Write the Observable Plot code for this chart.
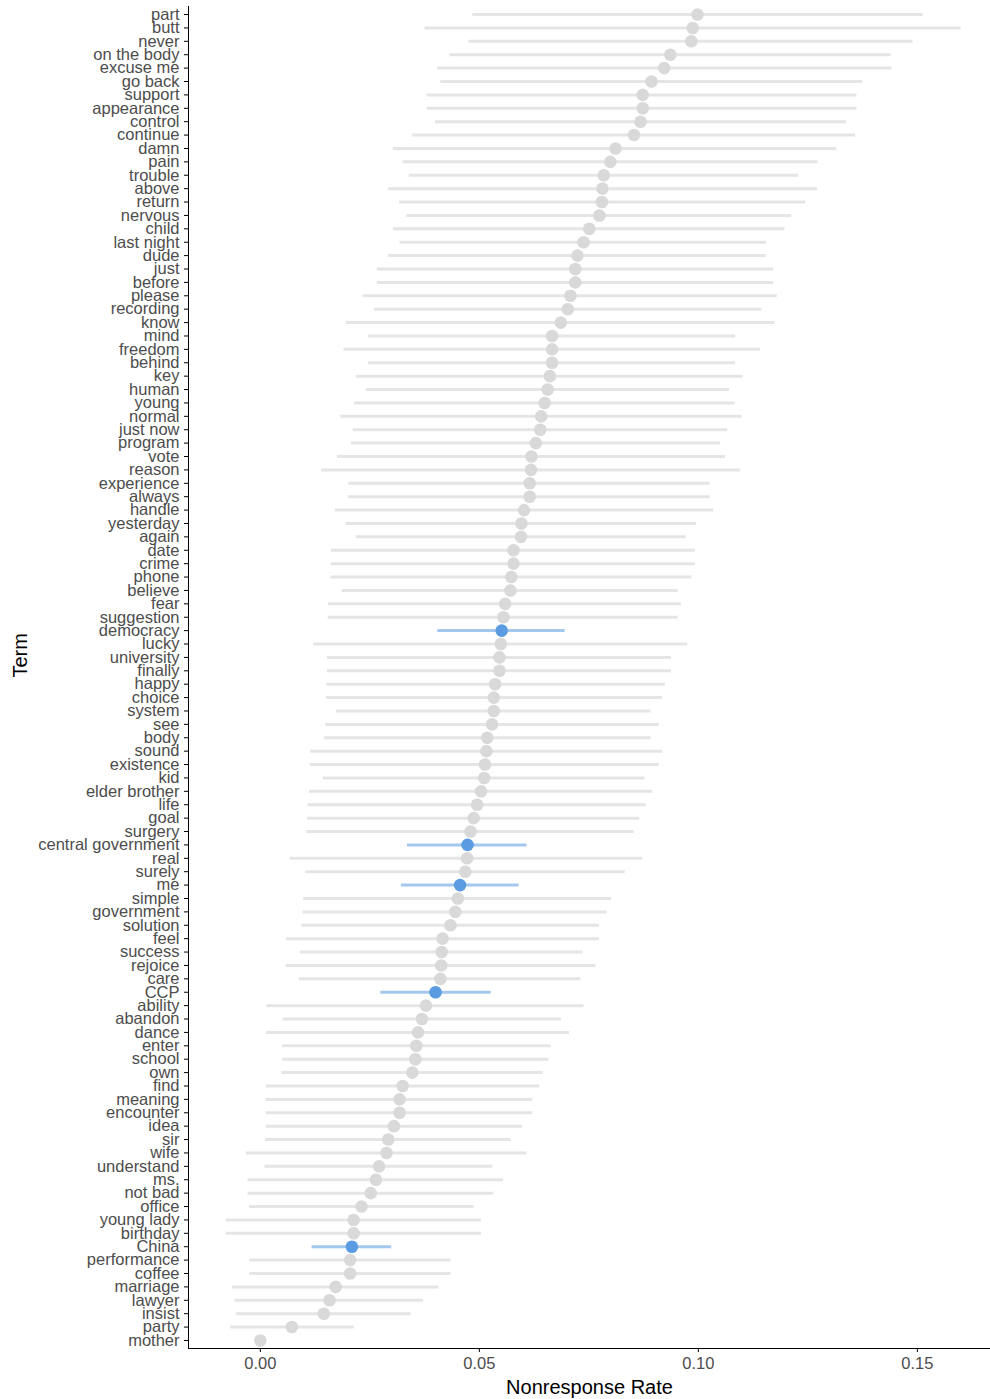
<!DOCTYPE html>
<html>
<head>
<meta charset="utf-8">
<script src="https://cdn.jsdelivr.net/npm/d3@7"></script>
<script src="https://cdn.jsdelivr.net/npm/@observablehq/plot@0.6"></script>
<style>
  html, body { margin: 0; padding: 0; background: #fff; }
  #chart svg { display: block; }
  #chart [aria-label$="tick label"] text, #chart g[aria-label$="tick label"] { fill: #4d4d4d; }
</style>
</head>
<body>
<div id="chart"></div>
<script>
const terms = ["part","butt","never","on the body","excuse me","go back","support","appearance","control","continue",
  "damn","pain","trouble","above","return","nervous","child","last night","dude","just",
  "before","please","recording","know","mind","freedom","behind","key","human","young",
  "normal","just now","program","vote","reason","experience","always","handle","yesterday","again",
  "date","crime","phone","believe","fear","suggestion","democracy","lucky","university","finally",
  "happy","choice","system","see","body","sound","existence","kid","elder brother","life",
  "goal","surgery","central government","real","surely","me","simple","government","solution","feel",
  "success","rejoice","care","CCP","ability","abandon","dance","enter","school","own",
  "find","meaning","encounter","idea","sir","wife","understand","ms.","not bad","office",
  "young lady","birthday","China","performance","coffee","marriage","lawyer","insist","party","mother"];

const rate = [0.0998,0.0987,0.0984,0.0936,0.0922,0.0893,0.0873,0.0873,0.0868,0.0853,
  0.0811,0.0799,0.0784,0.0781,0.0780,0.0774,0.0751,0.0738,0.0724,0.0719,
  0.0719,0.0708,0.0702,0.0686,0.0666,0.0666,0.0666,0.0661,0.0656,0.0649,
  0.0641,0.0639,0.0629,0.0619,0.0618,0.0615,0.0615,0.0602,0.0596,0.0595,
  0.0578,0.0578,0.0573,0.0571,0.0559,0.0555,0.0551,0.0549,0.0546,0.0546,
  0.0536,0.0533,0.0533,0.0529,0.0518,0.0516,0.0513,0.0511,0.0504,0.0495,
  0.0487,0.0480,0.0473,0.0472,0.0468,0.0456,0.0451,0.0445,0.0434,0.0416,
  0.0414,0.0413,0.0411,0.0400,0.0378,0.0369,0.0360,0.0356,0.0354,0.0347,
  0.0325,0.0318,0.0318,0.0305,0.0292,0.0288,0.0271,0.0264,0.0252,0.0231,
  0.0213,0.0213,0.0209,0.0205,0.0205,0.0172,0.0158,0.0145,0.0072,0.0000];

const lower = [0.0485,0.0376,0.0476,0.0433,0.0405,0.0412,0.0381,0.0381,0.0400,0.0348,
  0.0304,0.0326,0.0340,0.0293,0.0318,0.0335,0.0304,0.0319,0.0293,0.0267,
  0.0267,0.0235,0.0261,0.0196,0.0247,0.0191,0.0247,0.0219,0.0242,0.0215,
  0.0184,0.0212,0.0208,0.0176,0.0140,0.0202,0.0202,0.0171,0.0196,0.0219,
  0.0162,0.0162,0.0161,0.0187,0.0156,0.0155,0.0405,0.0122,0.0153,0.0153,
  0.0152,0.0151,0.0174,0.0149,0.0146,0.0115,0.0114,0.0144,0.0112,0.0109,
  0.0108,0.0106,0.0336,0.0068,0.0104,0.0322,0.0099,0.0098,0.0095,0.0060,
  0.0091,0.0059,0.0089,0.0275,0.0015,0.0052,0.0014,0.0051,0.0051,0.0049,
  0.0013,0.0013,0.0013,0.0013,0.0012,-0.0032,0.0011,-0.0028,-0.0028,-0.0025,
  -0.0078,-0.0078,0.0118,-0.0024,-0.0024,-0.0064,-0.0058,-0.0054,-0.0068,0.0000];

const upper = [0.1513,0.1600,0.1490,0.1440,0.1442,0.1376,0.1362,0.1362,0.1338,0.1359,
  0.1316,0.1273,0.1229,0.1272,0.1245,0.1213,0.1198,0.1156,0.1155,0.1172,
  0.1172,0.1180,0.1145,0.1175,0.1085,0.1142,0.1085,0.1102,0.1071,0.1084,
  0.1100,0.1067,0.1051,0.1062,0.1096,0.1027,0.1027,0.1035,0.0996,0.0972,
  0.0993,0.0993,0.0985,0.0954,0.0961,0.0954,0.0696,0.0976,0.0939,0.0939,
  0.0925,0.0918,0.0892,0.0911,0.0892,0.0919,0.0911,0.0878,0.0896,0.0881,
  0.0866,0.0853,0.0609,0.0873,0.0833,0.0591,0.0802,0.0792,0.0774,0.0774,
  0.0736,0.0766,0.0732,0.0527,0.0739,0.0687,0.0706,0.0664,0.0659,0.0646,
  0.0638,0.0622,0.0622,0.0599,0.0573,0.0609,0.0531,0.0555,0.0533,0.0488,
  0.0505,0.0505,0.0300,0.0435,0.0435,0.0408,0.0373,0.0344,0.0214,0.0000];

const highlighted = ["democracy","central government","me","CCP","China"];
const xTicks = [0, 0.05, 0.10, 0.15];
const xDomain = [-0.0164, 0.1667];

const data = terms.map((term, i) => ({
  term, rate: rate[i], lower: lower[i], upper: upper[i],
  hi: highlighted.includes(term)
}));
const grayData = data.filter(d => !d.hi);
const blueData = data.filter(d => d.hi);

const chart = Plot.plot({
  width: 990,
  height: 1399,
  marginLeft: 188,
  marginRight: 0,
  marginTop: 6,
  marginBottom: 51,
  style: { fontFamily: "'Liberation Sans', Arial, Helvetica, sans-serif", fontSize: "16.5px", color: "black", background: "white" },
  x: { domain: xDomain, ticks: xTicks, tickFormat: d3.format(".2f"), tickSize: 4, tickPadding: 5, line: true, label: null },
  y: { type: "point", domain: terms, padding: 0.6, tickSize: 4, tickPadding: 5, line: true, label: null },
  marks: [
    Plot.ruleY(grayData, { y: "term", x1: "lower", x2: "upper", stroke: "#e5e5e5", strokeWidth: 3 }),
    Plot.dot(grayData, { y: "term", x: "rate", r: 6.3, fill: "#d9d9d9", stroke: "none" }),
    Plot.ruleY(blueData, { y: "term", x1: "lower", x2: "upper", stroke: "#a4c7ee", strokeWidth: 3 }),
    Plot.dot(blueData, { y: "term", x: "rate", r: 6.3, fill: "#5a9be1", stroke: "none" }),
    Plot.text(["Nonresponse Rate"], { frameAnchor: "bottom", dy: 45, fontSize: 20, fill: "black" }),
    Plot.text(["Term"], { frameAnchor: "left", dx: -168, rotate: -90, fontSize: 20, fill: "black" })
  ]
});
document.getElementById("chart").appendChild(chart);
</script>
</body>
</html>
